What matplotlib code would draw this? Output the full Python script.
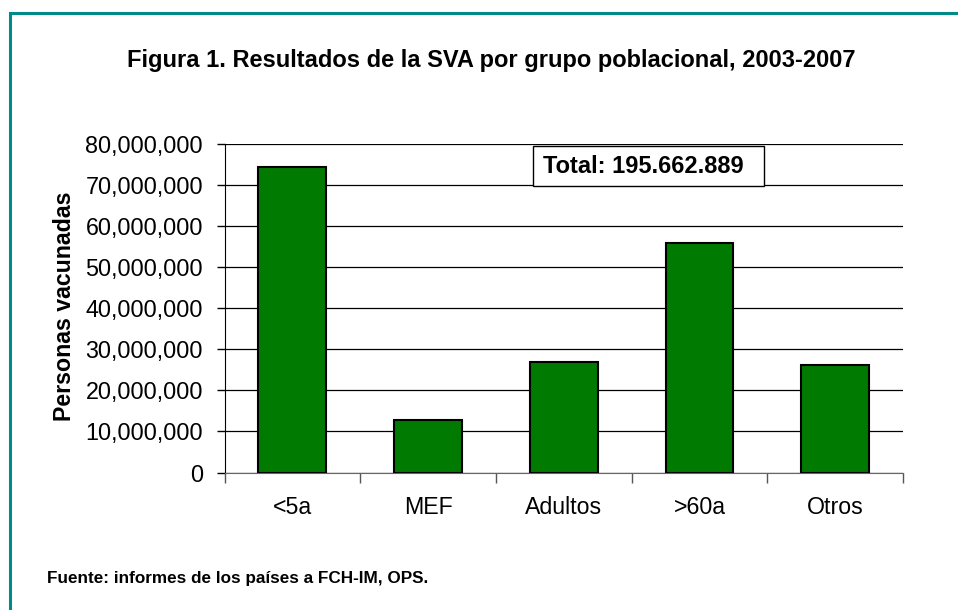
import matplotlib.pyplot as plt
from matplotlib.patches import Rectangle
from matplotlib.ticker import FuncFormatter

plt.rcParams["font.family"] = ["Liberation Sans", "DejaVu Sans"]

# data
groups = ["<5a", "MEF", "Adultos", ">60a", "Otros"]
vaccinated = [74.4e6, 12.9e6, 26.8e6, 55.9e6, 26.3e6]
y_ticks = [0, 10e6, 20e6, 30e6, 40e6, 50e6, 60e6, 70e6, 80e6]
total_label = "Total: 195.662.889"

fig = plt.figure(figsize=(9.58, 6.10), dpi=100)
ax = fig.add_axes([224.5 / 958, 1 - 472.5 / 610, (903 - 224.5) / 958, (472.5 - 144) / 610])

x = list(range(len(groups)))
ax.bar(x, vaccinated, width=0.5, color="#007A00", edgecolor="black", linewidth=1.5, zorder=3)

ax.set_xlim(-0.5, len(groups) - 0.5)
ax.set_ylim(0, 80e6)
ax.set_yticks(y_ticks)
ax.yaxis.set_major_formatter(FuncFormatter(lambda v, p: "0" if v == 0 else f"{int(v):,}"))
ax.grid(axis="y", color="black", linewidth=0.9, zorder=0)

# x ticks between categories, labels centered under bars
ax.set_xticks([i - 0.5 for i in range(len(groups) + 1)])
ax.set_xticklabels([])
ax.set_xticks(x, minor=True)
ax.set_xticklabels(groups, minor=True)
ax.tick_params(axis="x", which="major", length=7, width=1, color="#555555")
ax.tick_params(axis="x", which="minor", length=0, pad=17, labelsize=16.7)
ax.tick_params(axis="y", length=6, width=1, labelsize=16.8, pad=9.5)

for side in ["top", "right"]:
    ax.spines[side].set_visible(False)
ax.spines["left"].set_color("black")
ax.spines["bottom"].set_color("#666666")

ax.set_ylabel("Personas vacunadas", fontsize=16.7, fontweight="bold")
ax.yaxis.set_label_coords(-0.219, 0.507)

# total box
ax.add_patch(Rectangle((0.4547, 0.8721), 0.3405, 0.1218, transform=ax.transAxes,
                       facecolor="white", edgecolor="black", linewidth=1, zorder=5))
ax.text(0.4694, 0.933, total_label, transform=ax.transAxes, ha="left", va="center",
        fontsize=17, fontweight="bold", zorder=6)

fig.text(491 / 958, 1 - 60 / 610, "Figura 1. Resultados de la SVA por grupo poblacional, 2003-2007",
         ha="center", va="center", fontsize=17, fontweight="bold")
fig.text(47 / 958, 1 - 578 / 610, "Fuente: informes de los países a FCH-IM, OPS.",
         ha="left", va="center", fontsize=12.3, fontweight="bold")

# teal frame, right and bottom edges run off the image
fig.patches.append(Rectangle((10 / 958, -0.1), 1.0, 1 - 13.5 / 610 + 0.1, transform=fig.transFigure,
                             fill=False, edgecolor="#008B8B", linewidth=2.2))

fig.savefig("out.png", dpi=100)
